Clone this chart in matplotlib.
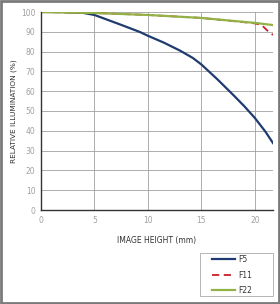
import numpy as np
import matplotlib.pyplot as plt
from matplotlib.patches import Rectangle

# image height (mm) and relative illumination (%)
f5_x = [0, 2, 4, 5, 6, 7.5, 9.25, 10, 11.5, 13, 14.2, 15, 16.5, 18, 19, 20, 21, 21.7]
f5_y = [100, 100, 99.5, 98.5, 96.5, 93.5, 89.9, 88, 84.5, 80.5, 76.8, 73.5, 66, 58, 52.5, 46.5, 39.5, 33.8]
f11_x = [0, 5, 10, 15, 19.8, 20.6, 21.2, 21.7]
f11_y = [100, 99.5, 98.5, 97, 94.4, 93.6, 90.5, 88.4]
f22_x = [0, 5, 10, 15, 20, 21.7]
f22_y = [100, 99.5, 98.5, 97, 94.5, 93.4]

fig = plt.figure(figsize=(2.8, 3.04), dpi=100)
ax = plt.axes([41/280, 1 - 210/304, 232/280, 198/304])

ax.plot(f5_x, f5_y, '-', color='#1f3b6f', lw=1.6, label='F5')
ax.plot(f11_x, f11_y, '--', color='#c8202a', lw=1.3, dashes=(4, 2.5), label='F11')
ax.plot(f22_x, f22_y, '-', color='#93b245', lw=1.6, label='F22')

ax.set_xlim(0, 21.7)
ax.set_ylim(0, 100)
ax.set_xticks([0, 5, 10, 15, 20])
ax.set_yticks(np.arange(0, 101, 10))
ax.grid(True, color='#a0a0a0', lw=0.6)
ax.set_axisbelow(True)
for s in ['top', 'right']:
    ax.spines[s].set_visible(False)
for s in ['left', 'bottom']:
    ax.spines[s].set_color('#333333')
    ax.spines[s].set_linewidth(1.0)
ax.tick_params(length=0, labelsize=5.5, labelcolor='#a0a0a0', pad=4)
ax.set_xlabel('IMAGE HEIGHT (mm)', fontsize=5.5, color='#333333', labelpad=8)
ax.set_ylabel('RELATIVE ILLUMINATION (%)', fontsize=5.3, color='#333333', labelpad=3)

# legend box drawn separately so it can be wider than its contents
fig.patches.append(Rectangle((200/280, 1 - 296/304), 73/280, 43/304, transform=fig.transFigure,
                             fill=False, edgecolor='#aaaaaa', lw=0.6))
leg = ax.legend(loc='center left', bbox_to_anchor=(212/280, 1 - 275/304),
                bbox_transform=fig.transFigure, fontsize=5.5,
                frameon=False, handlelength=3.0,
                labelspacing=0.85, handletextpad=0.4,
                borderpad=0, borderaxespad=0)
for t in leg.get_texts():
    t.set_color('#333333')

fig.patches.append(Rectangle((0.002, 0.002), 0.996, 0.996, transform=fig.transFigure,
                             fill=False, edgecolor='#7a7a7a', lw=2))

plt.savefig('out.png', dpi=100)
plt.close()
